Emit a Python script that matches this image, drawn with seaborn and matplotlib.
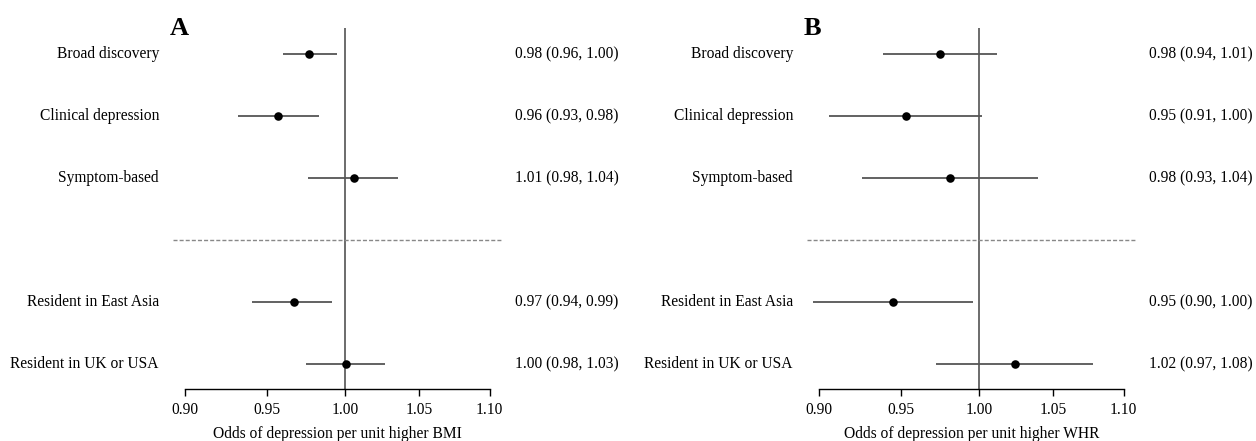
import matplotlib
matplotlib.use("Agg")
import matplotlib.pyplot as plt
import matplotlib.transforms as mtransforms
from matplotlib.ticker import NullLocator, FixedLocator, FixedFormatter
import seaborn as sns
import pandas as pd

# outcome definitions (top to bottom)
outcomes = ["Broad discovery", "Clinical depression", "Symptom-based",
            "Resident in East Asia", "Resident in UK or USA"]
groups = ["definition", "definition", "definition", "residence", "residence"]

# odds ratios and 95% CI
bmi_or = [0.977, 0.957, 1.006, 0.967, 1.001]
bmi_lo = [0.960, 0.932, 0.976, 0.941, 0.975]
bmi_hi = [0.995, 0.983, 1.036, 0.992, 1.027]
bmi_txt = ["0.98 (0.96, 1.00)", "0.96 (0.93, 0.98)", "1.01 (0.98, 1.04)",
           "0.97 (0.94, 0.99)", "1.00 (0.98, 1.03)"]

whr_or = [0.975, 0.953, 0.981, 0.945, 1.024]
whr_lo = [0.939, 0.906, 0.926, 0.897, 0.972]
whr_hi = [1.012, 1.002, 1.040, 0.996, 1.078]
whr_txt = ["0.98 (0.94, 1.01)", "0.95 (0.91, 1.00)", "0.98 (0.93, 1.04)",
           "0.95 (0.90, 1.00)", "1.02 (0.97, 1.08)"]

ticks = [0.90, 0.95, 1.00, 1.05, 1.10]
tick_labels = ["0.90", "0.95", "1.00", "1.05", "1.10"]

sns.set_theme(style="white")
plt.rcParams["font.family"] = ["Liberation Serif", "DejaVu Serif"]
plt.rcParams["text.color"] = "black"
plt.rcParams["axes.labelcolor"] = "black"
plt.rcParams["xtick.color"] = "black"

W, H = 1256, 441
FS = 11.2
fig = plt.figure(figsize=(W / 100, H / 100), dpi=100)

# row position: one blank row between the two groups
rows = []
r = 0
prev = None
for g in groups:
    r += 1
    if prev is not None and g != prev:
        r += 1
    rows.append(r)
    prev = g
sep_row = rows[2] + 1


def forest(left_px, df, txt, letter, xlabel):
    ax = fig.add_axes([left_px / W, 1 - 389 / H, 329 / W, (389 - 28) / H])
    ax.set_xscale("log")
    ax.hlines(df["row"], df["lo"], df["hi"], color="#555555", lw=1.3, zorder=2)
    sns.scatterplot(data=df, x="or", y="row", ax=ax, color="black", s=38,
                    edgecolor="black", linewidth=0, zorder=3, legend=False)
    ax.axvline(1.0, color="#444444", lw=1.1, zorder=1)
    ax.axhline(sep_row, color="#888888", lw=1.0, ls=(0, (2.9, 1.5)), zorder=1)
    ax.set_xlim(0.8932, 1.109)
    ax.set_ylim(6.40, 0.58)
    ax.xaxis.set_major_locator(FixedLocator(ticks))
    ax.xaxis.set_major_formatter(FixedFormatter(tick_labels))
    ax.xaxis.set_minor_locator(NullLocator())
    ax.set_yticks([])
    ax.set_ylabel("")
    ax.set_xlabel(xlabel, fontsize=FS, labelpad=6)
    ax.tick_params(axis="x", length=5, width=1, pad=4, labelsize=FS,
                   color="black", bottom=True)
    for s in ["top", "right", "left"]:
        ax.spines[s].set_visible(False)
    ax.spines["bottom"].set_bounds(0.9, 1.1)
    ax.spines["bottom"].set_color("black")
    ax.spines["bottom"].set_linewidth(1)

    trans = mtransforms.blended_transform_factory(fig.transFigure, ax.transData)
    for lab, yy, t in zip(df["label"], df["row"], txt):
        ax.text((left_px - 14) / W, yy, lab, transform=trans, ha="right",
                va="center", fontsize=FS)
        ax.text((left_px + 342) / W, yy, t, transform=trans, ha="left",
                va="center", fontsize=FS)
    fig.text((left_px - 3) / W, 1 - 35 / H, letter, fontsize=19,
             fontweight="bold", ha="left", va="baseline")
    return ax


bmi = pd.DataFrame({"label": outcomes, "row": rows, "or": bmi_or,
                    "lo": bmi_lo, "hi": bmi_hi})
whr = pd.DataFrame({"label": outcomes, "row": rows, "or": whr_or,
                    "lo": whr_lo, "hi": whr_hi})

forest(173, bmi, bmi_txt, "A", "Odds of depression per unit higher BMI")
forest(807, whr, whr_txt, "B", "Odds of depression per unit higher WHR")

fig.savefig("out.png", dpi=100, facecolor="white")
